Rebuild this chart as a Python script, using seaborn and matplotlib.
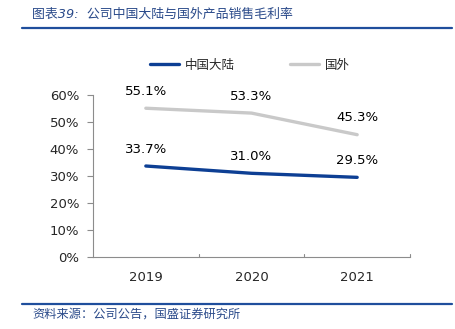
import matplotlib
matplotlib.use("Agg")
import matplotlib.pyplot as plt
import seaborn as sns
import pandas as pd
from matplotlib.lines import Line2D

years = ["2019", "2020", "2021"]
mainland = [0.337, 0.310, 0.295]
overseas = [0.551, 0.533, 0.453]
series_names = ["中国大陆", "国外"]
yticks = [0.0, 0.1, 0.2, 0.3, 0.4, 0.5, 0.6]
title = "图表39:  公司中国大陆与国外产品销售毛利率"
source = "资料来源：公司公告，国盛证券研究所"

sns.set_theme(style="white")
plt.rcParams['font.family'] = ['DejaVu Sans', 'Noto Sans CJK SC']

df = pd.DataFrame({
    "year": years * 2,
    "x": list(range(len(years))) * 2,
    "value": mainland + overseas,
    "series": [series_names[0]] * 3 + [series_names[1]] * 3,
})

colors = {series_names[0]: "#0d3f94", series_names[1]: "#c9c9c9"}

fig = plt.figure(figsize=(4.56, 3.29), dpi=100)
ax = fig.add_axes([93/456, 1-257/329, (410-93)/456, (257-95)/329])

sns.lineplot(data=df, x="x", y="value", hue="series", palette=colors,
             linewidth=2.4, ax=ax, legend=False, sort=False)

for vals in (mainland, overseas):
    for i, v in enumerate(vals):
        ax.annotate(f"{v*100:.1f}%", (i, v), xytext=(0, 7.5), textcoords="offset points",
                    ha="center", va="bottom", fontsize=9.5, color="black")

ax.set_xlim(-0.5, len(years) - 0.5)
ax.set_ylim(0, 0.6)
ax.set_yticks(yticks)
ax.set_yticklabels([f"{int(round(t*100))}%" for t in yticks], fontsize=9.5)
ax.set_xticks(range(len(years)))
ax.set_xticklabels(years, fontsize=9.5)
ax.tick_params(axis="x", length=0, pad=10)
# boundary ticks on x axis
for b in [0.5, 1.5, 2.5]:
    ax.plot([b, b], [0, 0.012], color="#8c8c8c", lw=0.8, clip_on=False)
ax.tick_params(axis="y", length=4, width=0.8, color="#8c8c8c", direction="out", left=True, pad=6)
ax.set_xlabel("")
ax.set_ylabel("")
for s in ["top", "right"]:
    ax.spines[s].set_visible(False)
for s in ["left", "bottom"]:
    ax.spines[s].set_color("#8c8c8c")
    ax.spines[s].set_linewidth(0.8)

handles = [Line2D([0], [0], color=colors[n], lw=2.4) for n in series_names]
fig.legend(handles, series_names, loc="center", bbox_to_anchor=(250/456, 1-65/329),
           ncol=2, frameon=False, handlelength=2.3, handletextpad=0.5, columnspacing=4.4,
           prop={"family": ["Noto Sans CJK SC"], "size": 9})

blue = "#1f4e9c"
fig.text(32/456, 1-14/329, title, fontsize=9.3, color="#2a4a8a", style="italic",
         va="center", ha="left", family=["DejaVu Sans", "Noto Sans CJK SC"])
fig.add_artist(Line2D([22/456, 452/456], [1-28/329, 1-28/329], color=blue, lw=1.6))
fig.add_artist(Line2D([22/456, 452/456], [1-304/329, 1-304/329], color=blue, lw=1.6))
fig.text(32/456, 1-314/329, source, fontsize=8.8, color="#2a4a8a", style="italic",
         va="center", ha="left", family=["Noto Sans CJK SC", "DejaVu Sans"])

fig.savefig("out.png", dpi=100)
